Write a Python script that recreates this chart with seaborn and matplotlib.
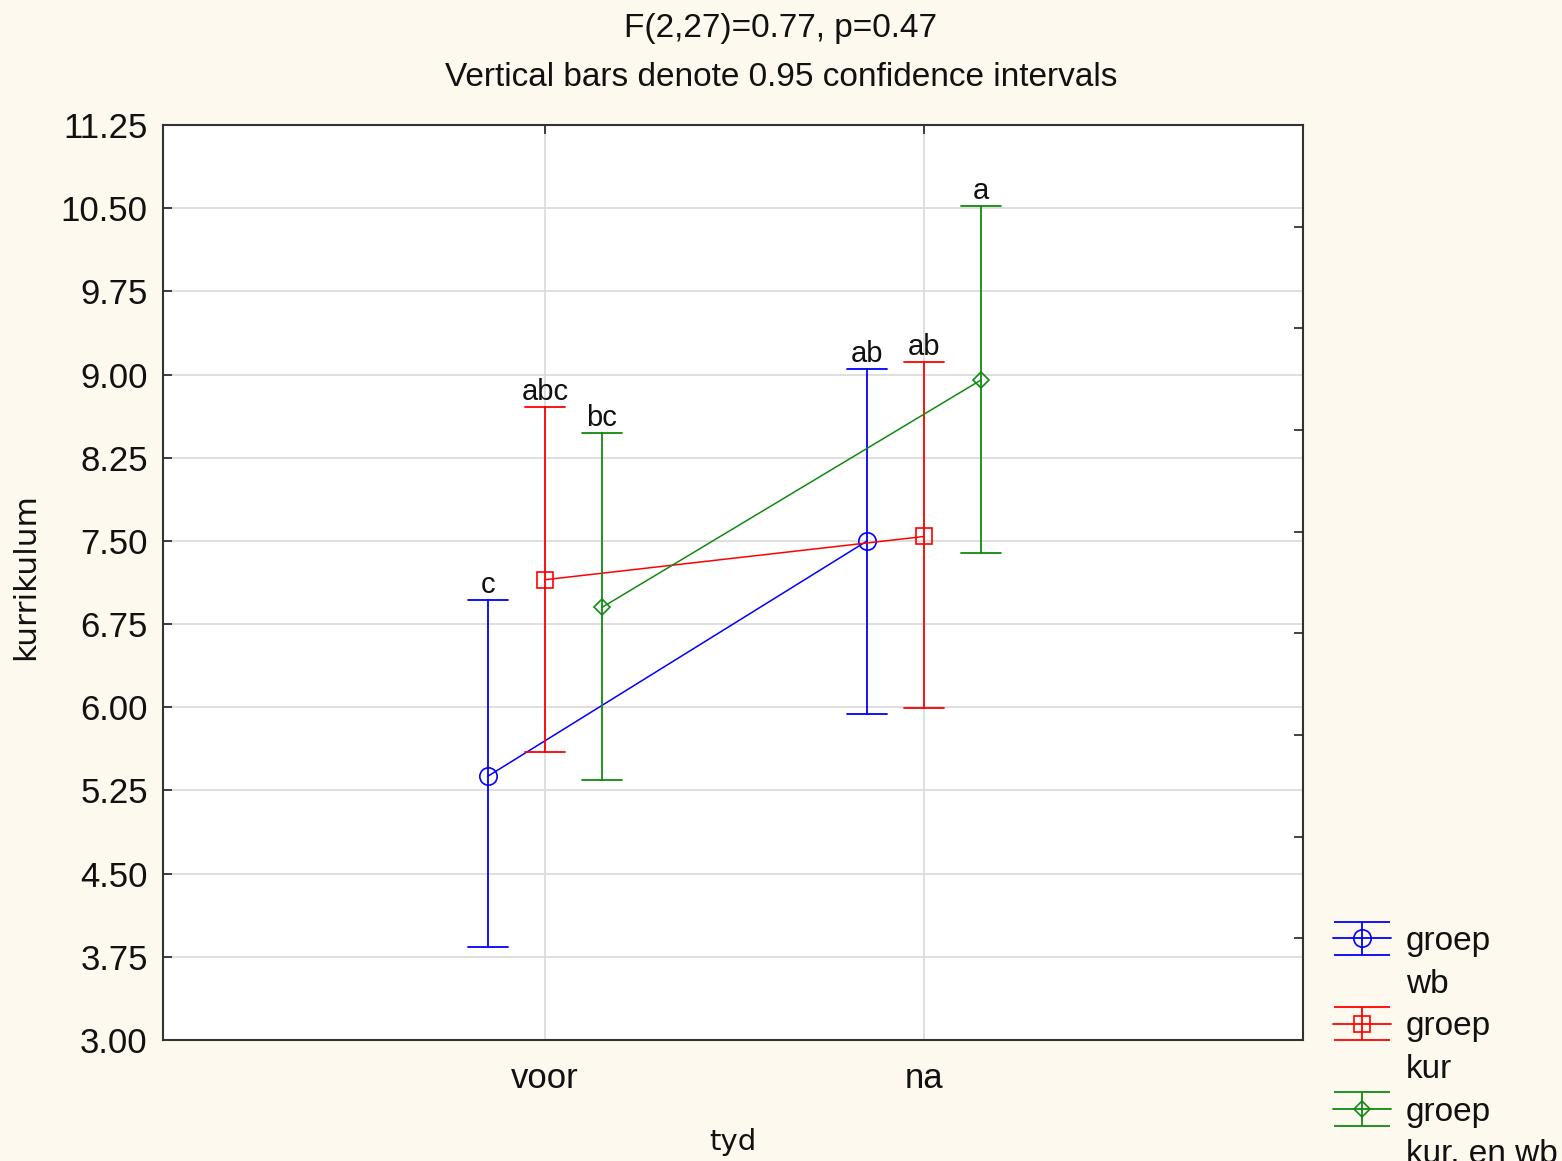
import numpy as np
import pandas as pd
import seaborn as sns
import matplotlib.pyplot as plt
import matplotlib.lines as mlines
from matplotlib.collections import LineCollection
from matplotlib.container import ErrorbarContainer

# --- data ---
tyd_levels = ["voor", "na"]
groep_levels = ["wb", "kur", "kur. en wb"]
legend_names = ["groep\nwb", "groep\nkur", "groep\nkur. en wb"]

mean_wb = [5.38, 7.50]
lo_wb = [3.84, 5.94]
hi_wb = [6.97, 9.05]

mean_kur = [7.15, 7.54]
lo_kur = [5.60, 5.99]
hi_kur = [8.71, 9.11]

mean_kurwb = [6.90, 8.95]
lo_kurwb = [5.34, 7.39]
hi_kurwb = [8.47, 10.52]

letters_wb = ["c", "ab"]
letters_kur = ["abc", "ab"]
letters_kurwb = ["bc", "a"]

colors = ["#0000ff", "#ff0000", "#128a12"]
markers = ["o", "s", "D"]
msizes = [12.5, 12, 8]

# long table: low / mean / high per cell, median -> mean, range -> CI
rows = []
series = [(mean_wb, lo_wb, hi_wb), (mean_kur, lo_kur, hi_kur), (mean_kurwb, lo_kurwb, hi_kurwb)]
for g, (m, lo, hi) in zip(groep_levels, series):
    for i, t in enumerate(tyd_levels):
        for v in (lo[i], m[i], hi[i]):
            rows.append({"tyd": t, "groep": g, "kurrikulum": v})
df = pd.DataFrame(rows)

sns.set_theme(style="white")
plt.rcParams["font.family"] = ["Liberation Sans", "DejaVu Sans"]
bg = "#fef9ee"

fig = plt.figure(figsize=(15.62, 11.61), dpi=100, facecolor=bg)
ax = fig.add_axes([163 / 1562, 1 - 1040 / 1161, 1140 / 1562, 915 / 1161])
ax.set_facecolor("white")

sns.pointplot(data=df, x="tyd", y="kurrikulum", hue="groep",
              order=tyd_levels, hue_order=groep_levels, palette=colors,
              markers=markers, linestyles="-", dodge=0.3,
              estimator="median", errorbar=lambda v: (v.min(), v.max()),
              capsize=0.105, err_kws={"linewidth": 1.3},
              linewidth=1.1, markeredgewidth=1.2, legend=False, ax=ax)

# open markers, and collect dodged positions from the drawn lines
main_lines = [l for l in ax.lines if l.get_marker() not in ("", "None", None)]
all_letters = [letters_wb, letters_kur, letters_kurwb]
all_hi = [hi_wb, hi_kur, hi_kurwb]
for k, line in enumerate(main_lines):
    line.set_markerfacecolor("none")
    line.set_markersize(msizes[k])
    xs = line.get_xdata()
    for j, x in enumerate(xs):
        ax.annotate(all_letters[k][j], (x, all_hi[k][j]), xytext=(0, 5),
                    textcoords="offset points", ha="center", va="baseline",
                    fontsize=21, color="#111111")

ax.set_xlim(-1.008, 2.0)
ax.set_ylim(3.0, 11.25)
yt = np.arange(3.0, 11.26, 0.75)
ax.set_yticks(yt)
ax.set_yticklabels([f"{v:.2f}" for v in yt])
ax.set_axisbelow(True)
ax.grid(True, color="#dcdcdc", linewidth=1.3)
ax.tick_params(axis="both", direction="in", length=6.5, width=1.2,
               color="#222222", labelsize=25, labelcolor="#111111", pad=11)
ax.tick_params(axis="x", top=True, pad=16)
for s in ax.spines.values():
    s.set_color("#333333")
    s.set_linewidth(1.5)

ax.set_xlabel("tyd", fontsize=21, family="DejaVu Sans", color="#111111")
ax.set_ylabel("kurrikulum", fontsize=22.5, family="DejaVu Sans", color="#111111")
ax.xaxis.set_label_coords(0.5, -0.096)
ax.yaxis.set_label_coords(-0.108, 0.506)

# right-hand ticks on their own scale
ax2 = ax.twinx()
ax2.set_ylim(0, 9)
ax2.set_yticks(range(1, 9))
ax2.tick_params(axis="y", direction="in", length=6.5, width=1.2,
                color="#222222", labelright=False)
for s in ax2.spines.values():
    s.set_visible(False)

fig.text(0.5, 1 - 28 / 1161, "F(2,27)=0.77, p=0.47", ha="center", va="center",
         fontsize=24, color="#111111")
fig.text(0.5, 1 - 77 / 1161, "Vertical bars denote 0.95 confidence intervals",
         ha="center", va="center", fontsize=24, color="#111111")

# legend: errorbar proxies, second line of each label on its own row
handles, labels = [], []
blank = mlines.Line2D([], [], linestyle="none", marker="")
for c, mk, ms, name in zip(colors, markers, msizes, legend_names):
    dline = mlines.Line2D([], [], color=c, marker=mk, mfc="none", ms=ms,
                          mew=1.2, lw=1.3)
    cap = mlines.Line2D([], [], color=c, marker="_", ms=41, mew=1.3,
                        linestyle="none")
    bar = LineCollection([], colors=c, linewidths=1.3)
    h = ErrorbarContainer((dline, (cap, cap), (bar,)), has_xerr=False, has_yerr=True)
    first, second = name.split("\n")
    handles += [h, blank]
    labels += [first, second]
fig.legend(handles, labels, loc="upper left",
           bbox_to_anchor=(1333 / 1562, 1 - 926 / 1161), frameon=False,
           fontsize=24, borderpad=0, borderaxespad=0, handlelength=1.73,
           handletextpad=0.45, labelspacing=0.35, labelcolor="#111111")

fig.savefig("out.png", dpi=100, facecolor=bg)
